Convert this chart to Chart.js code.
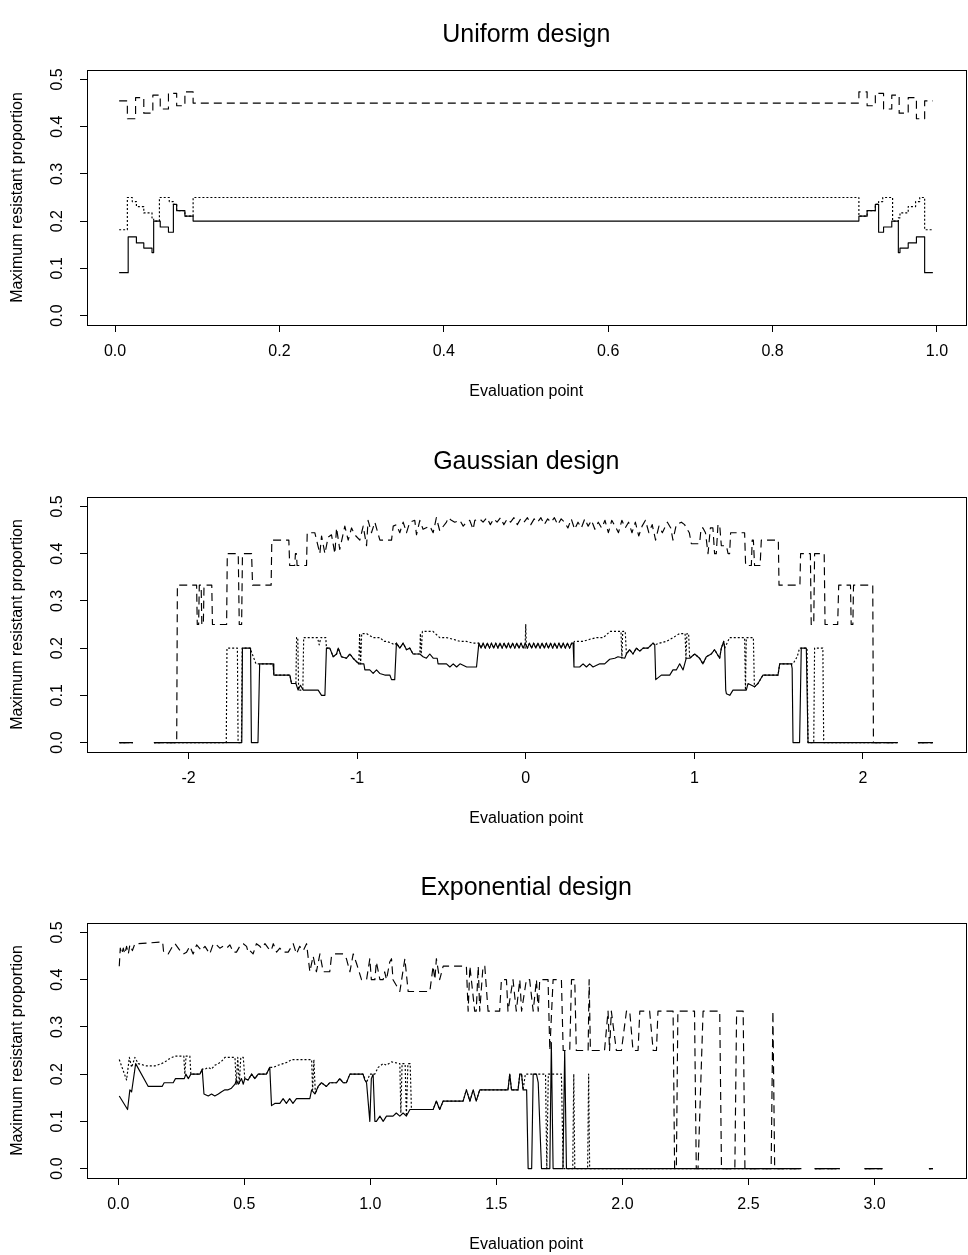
<!DOCTYPE html>
<html>
<head>
<meta charset="utf-8">
<title>Maximum resistant proportion</title>
<script src="https://cdn.jsdelivr.net/npm/chart.js@4.4.1/dist/chart.umd.min.js"></script>
<style>
  body { margin: 0; background: #fff; }
  #page { position: relative; width: 968px; height: 1255px; }
  .panel { position: absolute; left: 0; width: 968px; height: 402px; }
</style>
</head>
<body>
<div id="page">
  <div class="panel" style="top:0px"><canvas id="uniform" width="968" height="402"></canvas></div>
  <div class="panel" style="top:427px"><canvas id="gaussian" width="968" height="402"></canvas></div>
  <div class="panel" style="top:853px"><canvas id="exponential" width="968" height="402"></canvas></div>
</div>
<script>
// axis ticks
var yTicks = [0, 0.1, 0.2, 0.3, 0.4, 0.5];
var yTickLabels = ['0.0', '0.1', '0.2', '0.3', '0.4', '0.5'];
var uniformTicks = [0, 0.2, 0.4, 0.6, 0.8, 1.0];
var uniformTickLabels = ['0.0', '0.2', '0.4', '0.6', '0.8', '1.0'];
var gaussTicks = [-2, -1, 0, 1, 2];
var gaussTickLabels = ['-2', '-1', '0', '1', '2'];
var expoTicks = [0, 0.5, 1.0, 1.5, 2.0, 2.5, 3.0];
var expoTickLabels = ['0.0', '0.5', '1.0', '1.5', '2.0', '2.5', '3.0'];

// Uniform design (step points: value holds from x onward)
var uniformSolid = [[0.005,0.0909],[0.016,0.1667],[0.026,0.1538],[0.035,0.1429],[0.045,0.1333],[0.047,0.2],[0.055,0.1875],[0.065,0.1765],[0.071,0.2353],[0.075,0.2222],[0.085,0.2105],[0.095,0.2],[0.905,0.2105],[0.915,0.2222],[0.925,0.2353],[0.929,0.1765],[0.935,0.1875],[0.945,0.2],[0.953,0.1333],[0.955,0.1429],[0.965,0.1538],[0.975,0.1667],[0.985,0.0909],[0.995,0.0909]];
var uniformDotted = [[0.005,0.1818],[0.015,0.25],[0.021,0.2414],[0.026,0.2308],[0.035,0.2174],[0.045,0.2069],[0.047,0.2],[0.054,0.25],[0.066,0.2414],[0.071,0.2353],[0.075,0.2222],[0.085,0.2105],[0.095,0.25],[0.905,0.2105],[0.915,0.2222],[0.925,0.2353],[0.929,0.2414],[0.934,0.25],[0.946,0.2],[0.953,0.2069],[0.955,0.2174],[0.965,0.2308],[0.974,0.2414],[0.979,0.25],[0.985,0.1818],[0.995,0.1818]];
var uniformDashed = [[0.005,0.4545],[0.015,0.4167],[0.025,0.4615],[0.035,0.4286],[0.046,0.4667],[0.055,0.4375],[0.065,0.4706],[0.075,0.4444],[0.085,0.4737],[0.095,0.45],[0.905,0.4737],[0.915,0.4444],[0.925,0.4706],[0.935,0.4375],[0.945,0.4667],[0.954,0.4286],[0.965,0.4615],[0.975,0.4167],[0.985,0.4545],[0.995,0.4545]];

// Gaussian design
var gaussSolidLeft = [[-2.41,0],[-2.33,0],[-2.27,null],[-2.205,0],[-1.684,0],[-1.68,0.2],[-1.632,0.2],[-1.627,0],[-1.588,0],[-1.578,0.1667],[-1.498,0.1667],[-1.494,0.1429],[-1.399,0.1429],[-1.389,0.125],[-1.363,0.125],[-1.35,0.1111],[-1.336,0.1212],[-1.32,0.1111],[-1.231,0.1111],[-1.211,0.1],[-1.191,0.1],[-1.182,0.2],[-1.162,0.2],[-1.142,0.1818],[-1.122,0.1875],[-1.112,0.2],[-1.093,0.1818],[-1.063,0.1786],[-1.043,0.1875],[-1.024,0.1786],[-0.99,0.1667],[-0.96,0.1667],[-0.954,0.1538],[-0.925,0.1538],[-0.905,0.1463],[-0.885,0.1538],[-0.866,0.1463],[-0.836,0.1429],[-0.806,0.1429],[-0.796,0.1333],[-0.777,0.1333],[-0.767,0.2105],[-0.747,0.2],[-0.727,0.2105],[-0.707,0.1967],[-0.688,0.2],[-0.668,0.1875],[-0.628,0.1875],[-0.609,0.1818],[-0.589,0.1786],[-0.569,0.1875],[-0.549,0.1786],[-0.525,0.1786],[-0.52,0.1667],[-0.47,0.1667],[-0.45,0.16],[-0.43,0.1667],[-0.41,0.16],[-0.39,0.1667],[-0.35,0.16],[-0.292,0.16]];
var gaussCentre = [[-0.278,0.2105],[-0.265,0.2],[-0.253,0.2105],[-0.24,0.2],[-0.228,0.2105],[-0.215,0.2],[-0.203,0.2105],[-0.19,0.2],[-0.178,0.2105],[-0.165,0.2],[-0.153,0.2105],[-0.14,0.2],[-0.128,0.2105],[-0.115,0.2],[-0.103,0.2105],[-0.09,0.2],[-0.078,0.2105],[-0.065,0.2],[-0.053,0.2105],[-0.04,0.2],[-0.028,0.2105],[-0.015,0.2],[-0.003,0.2105],[0.01,0.2],[0.022,0.2105],[0.035,0.2],[0.047,0.2105],[0.06,0.2],[0.072,0.2105],[0.085,0.2],[0.097,0.2105],[0.11,0.2],[0.122,0.2105],[0.135,0.2],[0.147,0.2105],[0.16,0.2],[0.172,0.2105],[0.185,0.2],[0.197,0.2105],[0.21,0.2],[0.222,0.2105],[0.235,0.2],[0.247,0.2105],[0.26,0.2],[0.272,0.2105],[0.281,0.2105]];
var gaussSpike = [[-0.004,0.2],[0,0.25],[0.004,0.2]];
var gaussSolidRight = [[0.286,0.16],[0.32,0.16],[0.34,0.1667],[0.36,0.16],[0.379,0.1667],[0.399,0.16],[0.439,0.1667],[0.468,0.1667],[0.498,0.1765],[0.528,0.1786],[0.547,0.1818],[0.587,0.1786],[0.597,0.1875],[0.616,0.1967],[0.636,0.1875],[0.656,0.2],[0.676,0.1935],[0.696,0.2],[0.725,0.2],[0.755,0.2105],[0.765,0.2069],[0.771,0.1333],[0.804,0.1429],[0.854,0.1429],[0.873,0.1538],[0.893,0.1538],[0.913,0.1667],[0.933,0.1538],[0.952,0.1786],[0.972,0.1786],[1.002,0.1875],[1.031,0.1786],[1.051,0.1667],[1.071,0.1818],[1.1,0.1875],[1.12,0.1967],[1.15,0.1786],[1.16,0.2],[1.174,0.2143],[1.18,0.2],[1.186,0.1111],[1.19,0.1034],[1.21,0.1],[1.229,0.1111],[1.308,0.1111],[1.318,0.125],[1.357,0.118],[1.377,0.125],[1.407,0.1429],[1.496,0.1429],[1.506,0.1667],[1.575,0.1667],[1.58,0.157],[1.585,0],[1.624,0],[1.634,0.2],[1.664,0.2],[1.674,0],[2.207,0],[2.27,null],[2.326,0],[2.415,0]];
var gaussDottedLeft = [[-2.41,0],[-2.33,0],[-2.27,null],[-2.205,0],[-1.776,0],[-1.772,0.2],[-1.71,0.2],[-1.706,0],[-1.686,0],[-1.682,0.2],[-1.635,0.2],[-1.6,0.1667],[-1.498,0.1667],[-1.494,0.1429],[-1.399,0.1429],[-1.389,0.125],[-1.363,0.125],[-1.359,0.2222],[-1.352,0.2222],[-1.347,0.1111],[-1.322,0.1111],[-1.317,0.2222],[-1.235,0.2222],[-1.225,0.2069],[-1.215,0.2222],[-1.186,0.2222],[-1.182,0.2],[-1.162,0.2],[-1.142,0.1818],[-1.122,0.1875],[-1.112,0.2],[-1.093,0.1818],[-1.063,0.1786],[-1.043,0.1875],[-1.024,0.1786],[-0.99,0.1667],[-0.985,0.2308],[-0.979,0.1667],[-0.973,0.2308],[-0.944,0.2308],[-0.905,0.2222],[-0.865,0.2222],[-0.84,0.2143],[-0.826,0.2143],[-0.796,0.2105],[-0.777,0.2069],[-0.767,0.2105],[-0.747,0.2],[-0.727,0.2105],[-0.707,0.1967],[-0.688,0.2],[-0.668,0.1875],[-0.628,0.1875],[-0.625,0.2308],[-0.62,0.1875],[-0.613,0.2353],[-0.55,0.2353],[-0.51,0.2222],[-0.47,0.2222],[-0.431,0.2188],[-0.391,0.2143],[-0.352,0.2143],[-0.312,0.2105],[-0.29,0.2105]];
var gaussDottedRight = [[0.29,0.2143],[0.34,0.2143],[0.38,0.2188],[0.42,0.2222],[0.46,0.2222],[0.5,0.2353],[0.565,0.2353],[0.57,0.1786],[0.575,0.2353],[0.59,0.2353],[0.597,0.1875],[0.616,0.1967],[0.636,0.1875],[0.656,0.2],[0.676,0.1935],[0.696,0.2],[0.725,0.2],[0.755,0.2105],[0.765,0.2069],[0.794,0.2105],[0.834,0.2143],[0.873,0.2222],[0.913,0.2308],[0.945,0.2308],[0.95,0.1786],[0.956,0.2308],[0.966,0.2308],[0.972,0.1786],[1.002,0.1875],[1.031,0.1786],[1.051,0.1667],[1.071,0.1818],[1.1,0.1875],[1.12,0.1967],[1.15,0.1786],[1.16,0.2],[1.174,0.2143],[1.18,0.2],[1.209,0.2222],[1.298,0.2222],[1.303,0.1111],[1.308,0.2222],[1.35,0.2222],[1.356,0.118],[1.377,0.125],[1.407,0.1429],[1.496,0.1429],[1.506,0.1667],[1.585,0.1667],[1.61,0.1818],[1.624,0.2],[1.668,0.2],[1.674,0],[1.708,0],[1.713,0.2],[1.762,0.2],[1.767,0],[2.207,0],[2.27,null],[2.326,0],[2.415,0]];
var gaussDashed = [[-2.41,0],[-2.33,0],[-2.27,null],[-2.205,0],[-2.07,0],[-2.066,0.3333],[-1.952,0.3333],[-1.948,0.25],[-1.94,0.25],[-1.936,0.3333],[-1.925,0.3333],[-1.921,0.25],[-1.912,0.25],[-1.908,0.3333],[-1.862,0.3333],[-1.858,0.25],[-1.774,0.25],[-1.77,0.4],[-1.705,0.4],[-1.699,0.25],[-1.685,0.25],[-1.68,0.4],[-1.626,0.4],[-1.62,0.3333],[-1.51,0.3333],[-1.506,0.4286],[-1.405,0.4286],[-1.4,0.375],[-1.37,0.375],[-1.366,0.4],[-1.36,0.4],[-1.356,0.375],[-1.3,0.375],
  [-1.296,0.4444],[-1.251,0.4444],[-1.221,0.4],[-1.211,0.4375],[-1.191,0.4],[-1.172,0.4348],[-1.152,0.44],[-1.132,0.4],[-1.122,0.4545],[-1.103,0.4091],[-1.073,0.4583],[-1.053,0.4286],[-1.033,0.4545],[-1.014,0.44],[-0.984,0.4286],[-0.964,0.4583],[-0.944,0.4167],[-0.935,0.4706],[-0.915,0.4444],[-0.895,0.4667],[-0.865,0.4286],[-0.796,0.4286],[-0.786,0.4583],[-0.767,0.4615],[-0.747,0.4444],[-0.727,0.4667],[-0.707,0.4444],[-0.688,0.4667],[-0.658,0.4706],[-0.648,0.44],[-0.628,0.4706],[-0.609,0.4516],[-0.569,0.4583],[-0.549,0.4444],[-0.53,0.4762],[-0.51,0.4483],[-0.47,0.4667],[-0.46,0.4762],[-0.441,0.4706],[-0.421,0.4667],[-0.391,0.4706],[-0.371,0.4583],[-0.352,0.4667],[-0.332,0.4706],[-0.312,0.4516],[-0.302,0.4706],[-0.273,0.4737],[-0.253,0.4667],[-0.23,0.4762],[-0.21,0.4615],[-0.19,0.4737],[-0.17,0.4667],[-0.15,0.4762],[-0.13,0.4615],[-0.11,0.4737],[-0.09,0.4667],[-0.07,0.4762],[-0.05,0.4615],[-0.03,0.4737],[-0.01,0.4667],[0.01,0.4762],
  [0.03,0.4615],[0.05,0.4737],[0.07,0.4667],[0.09,0.4762],[0.11,0.4615],[0.13,0.4737],[0.15,0.4667],[0.17,0.4762],[0.19,0.4615],[0.21,0.4737],[0.23,0.4667],[0.25,0.4545],[0.27,0.4737],[0.29,0.4516],[0.31,0.4667],[0.33,0.4545],[0.35,0.4737],[0.37,0.4583],[0.39,0.4706],[0.41,0.4516],[0.43,0.4667],[0.45,0.4545],[0.47,0.4706],[0.49,0.4444],[0.51,0.4706],[0.53,0.4583],[0.55,0.4444],[0.57,0.4706],[0.59,0.4545],[0.61,0.4667],[0.63,0.4444],[0.65,0.4667],[0.67,0.4375],[0.69,0.4583],[0.71,0.4706],[0.73,0.4444],[0.75,0.4615],[0.77,0.4286],[0.79,0.4583],[0.81,0.4444],[0.84,0.4667],[0.86,0.4545],[0.873,0.4286],[0.893,0.4615],[0.923,0.4667],[0.942,0.4615],[0.952,0.4545],[0.97,0.4444],[0.982,0.4211],[1.031,0.4211],[1.04,0.4545],[1.051,0.4545],[1.066,0.4444],[1.081,0.4],[1.095,0.4545],[1.11,0.4545],[1.12,0.4],[1.13,0.4],[1.14,0.4615],[1.15,0.4615],[1.16,0.4167],[1.19,0.4167],[1.2,0.4],[1.209,0.4],[1.215,0.4444],[1.298,0.4444],[1.304,0.375],[1.338,0.375],[1.343,0.4286],[1.35,0.4286],[1.357,0.375],[1.39,0.375],[1.397,0.4286],[1.498,0.4286],[1.502,0.3333],[1.626,0.3333],[1.63,0.4],[1.688,0.4],[1.693,0.25],[1.708,0.25],[1.713,0.4],[1.77,0.4],[1.775,0.25],[1.85,0.25],[1.856,0.3333],[1.926,0.3333],[1.93,0.25],[1.94,0.25],[1.944,0.3333],[2.058,0.3333],[2.062,0],[2.207,0],[2.27,null],[2.326,0],[2.415,0]];

// Exponential design
var expoSolid = [[0.004,0.1538],[0.037,0.125],[0.046,0.1667],[0.053,0.1622],[0.069,0.2222],[0.119,0.1739],[0.174,0.1739],[0.182,0.1818],[0.218,0.1818],[0.227,0.1905],[0.262,0.1905],[0.268,0.2],[0.278,0.1905],[0.288,0.2],[0.304,0.2],[0.324,0.2],[0.333,0.2105],[0.34,0.1579],[0.357,0.1538],[0.37,0.1579],[0.383,0.1538],[0.397,0.1579],[0.41,0.1628],[0.423,0.1667],[0.436,0.1667],[0.449,0.1702],[0.463,0.1786],[0.469,0.1875],[0.476,0.1786],[0.489,0.1905],[0.496,0.1786],[0.502,0.1905],[0.515,0.1875],[0.529,0.2],[0.542,0.1905],[0.555,0.2],[0.588,0.2],[0.601,0.2143],[0.608,0.1333],[0.621,0.1379],[0.641,0.1379],[0.654,0.1481],[0.667,0.1379],[0.68,0.1481],[0.693,0.1379],[0.707,0.1481],[0.76,0.1481],[0.767,0.1667],[0.78,0.1579],[0.793,0.1739],[0.806,0.1818],[0.826,0.1739],[0.839,0.1818],[0.866,0.1818],[0.879,0.1905],[0.892,0.1818],[0.905,0.1818],[0.919,0.2],[0.971,0.2],[0.978,0.1875],[0.985,0.1818],[0.998,0.1],[1.004,0.1905],[1.011,0.2],[1.018,0.1],[1.024,0.1],[1.038,0.1111],[1.051,0.1],[1.064,0.1111],[1.09,0.1111],[1.103,0.1176],[1.117,0.1111],[1.13,0.1176],[1.143,0.1111],[1.157,0.125],[1.249,0.125],[1.262,0.1429],[1.275,0.125],[1.289,0.1429],[1.368,0.1429],[1.381,0.1667],[1.395,0.1429],[1.408,0.1667],[1.42,0.1429],[1.434,0.1667],[1.546,0.1667],[1.553,0.2],[1.56,0.1667],[1.586,0.1667],[1.593,0.2],[1.6,0.2],[1.606,0.1667],[1.62,0.1667],[1.626,0],[1.64,0],[1.646,0.2],[1.659,0.2],[1.666,0.1818],[1.679,0],[1.712,0],[1.718,0.2667],[1.725,0],[1.764,0],[1.771,0.25],[1.778,0],[2.71,0],[2.74,null],[2.763,0],[2.862,0],[2.91,null],[2.961,0],[3.031,0],[3.1,null],[3.216,0],[3.232,0]];
var expoDotted = [[0.004,0.2308],[0.033,0.1875],[0.044,0.2353],[0.053,0.2143],[0.066,0.2353],[0.079,0.2222],[0.112,0.2174],[0.145,0.2174],[0.172,0.2222],[0.185,0.2258],[0.205,0.2333],[0.225,0.2381],[0.26,0.2381],[0.264,0.2],[0.269,0.2381],[0.284,0.2381],[0.288,0.2],[0.304,0.2],[0.324,0.2],[0.333,0.2105],[0.344,0.2105],[0.357,0.2143],[0.37,0.2105],[0.383,0.2188],[0.397,0.2222],[0.41,0.2273],[0.423,0.2353],[0.463,0.2353],[0.468,0.1786],[0.474,0.2353],[0.48,0.1786],[0.486,0.2353],[0.496,0.2353],[0.502,0.1905],[0.515,0.1875],[0.529,0.2],[0.542,0.1905],[0.555,0.2],[0.588,0.2],[0.601,0.2143],[0.615,0.2143],[0.634,0.2188],[0.654,0.2222],[0.674,0.2258],[0.687,0.2308],[0.767,0.2308],[0.771,0.1667],[0.776,0.2308],[0.782,0.1579],[0.793,0.1739],[0.806,0.1818],[0.826,0.1739],[0.839,0.1818],[0.866,0.1818],[0.879,0.1905],[0.892,0.1818],[0.905,0.1818],[0.919,0.2],[0.971,0.2],[0.985,0.1818],[0.998,0.2],[1.018,0.2],[1.031,0.2143],[1.051,0.2222],[1.064,0.2188],[1.084,0.2258],[1.117,0.2222],[1.121,0.1176],[1.126,0.2222],[1.138,0.2222],[1.143,0.1111],[1.149,0.2222],[1.158,0.2222],[1.163,0.125],[1.249,0.125],[1.262,0.1429],[1.275,0.125],[1.289,0.1429],[1.368,0.1429],[1.381,0.1667],[1.395,0.1429],[1.408,0.1667],[1.42,0.1429],[1.434,0.1667],[1.546,0.1667],[1.553,0.2],[1.56,0.1667],[1.586,0.1667],[1.593,0.2],[1.6,0.2],[1.606,0.1667],[1.615,0.2],[1.695,0.2],[1.7,0],[1.706,0.2],[1.758,0.2],[1.765,0],[1.803,0],[1.807,0.2],[1.811,0],[1.862,0],[1.866,0.2],[1.87,0],[2.71,0],[2.74,null],[2.763,0],[2.862,0],[2.91,null],[2.961,0],[3.031,0],[3.1,null],[3.216,0],[3.232,0]];
var expoDashed = [[0.004,0.4286],[0.008,0.4667],[0.014,0.4545],[0.02,0.4667],[0.026,0.4545],[0.033,0.4706],[0.04,0.4545],[0.046,0.4737],[0.056,0.4615],[0.066,0.4762],[0.079,0.4762],[0.176,0.48],[0.18,0.4583],[0.198,0.4545],[0.211,0.4667],[0.225,0.4762],[0.245,0.4615],[0.258,0.4545],[0.271,0.4583],[0.284,0.4706],[0.297,0.4545],[0.311,0.4737],[0.33,0.4615],[0.344,0.4706],[0.363,0.4545],[0.377,0.4762],[0.39,0.4737],[0.403,0.4667],[0.416,0.4706],[0.43,0.4667],[0.443,0.4737],[0.456,0.4583],[0.469,0.4583],[0.482,0.4706],[0.496,0.4762],[0.509,0.4706],[0.515,0.4583],[0.522,0.4615],[0.535,0.4545],[0.548,0.4762],[0.562,0.4706],[0.568,0.4667],[0.582,0.4762],[0.595,0.4667],[0.607,0.4615],[0.615,0.4762],[0.628,0.4583],[0.641,0.4667],[0.654,0.4583],[0.674,0.4583],[0.694,0.4762],[0.707,0.4545],[0.72,0.4706],[0.734,0.4615],[0.747,0.4762],[0.76,0.4167],[0.773,0.45],[0.786,0.4167],[0.8,0.4545],[0.813,0.4167],[0.839,0.4167],[0.846,0.45],[0.859,0.4545],[0.892,0.4545],[0.905,0.4444],[0.919,0.4167],[0.932,0.4545],[0.945,0.4348],[0.965,0.4],[0.985,0.4],[0.998,0.4444],[1.004,0.4],[1.018,0.4],[1.024,0.4375],[1.038,0.4],[1.051,0.4],[1.057,0.4167],[1.064,0.4],[1.077,0.4375],[1.084,0.4444],[1.09,0.4],[1.117,0.375],[1.137,0.4444],[1.15,0.375],[1.236,0.375],[1.249,0.4286],[1.256,0.4],[1.262,0.4444],[1.275,0.4],[1.289,0.4286],[1.381,0.4286],[1.388,0.3333],[1.395,0.4286],[1.414,0.3333],[1.42,0.3333],[1.428,0.4286],[1.434,0.3333],[1.447,0.4286],[1.454,0.4286],[1.467,0.3333],[1.513,0.3333],[1.52,0.4],[1.54,0.4],[1.546,0.3333],[1.566,0.4],[1.579,0.3333],[1.593,0.4],[1.6,0.3333],[1.619,0.4],[1.632,0.4],[1.646,0.3333],[1.659,0.4],[1.666,0.3333],[1.672,0.4],[1.705,0.4],[1.712,0.25],[1.725,0.4],[1.758,0.4],[1.765,0.25],[1.791,0.25],[1.798,0.4],[1.811,0.4],[1.817,0.25],[1.864,0.25],[1.868,0.4],[1.873,0.25],[1.929,0.25],[1.943,0.3333],[1.949,0.25],[1.956,0.3333],[1.976,0.25],[1.996,0.25],[2.016,0.3333],[2.029,0.3333],[2.042,0.25],[2.062,0.25],[2.069,0.3333],[2.108,0.3333],[2.122,0.25],[2.135,0.25],[2.141,0.3333],[2.201,0.3333],[2.207,0],[2.214,0],[2.22,0.3333],[2.286,0.3333],[2.293,0],[2.3,0],[2.32,0.3333],[2.386,0.3333],[2.393,0],[2.446,0],[2.453,0.3333],[2.479,0.3333],[2.486,0],[2.59,0],[2.597,0.3333],[2.604,0],[2.71,0],[2.74,null],[2.763,0],[2.862,0],[2.91,null],[2.961,0],[3.031,0],[3.1,null],[3.216,0],[3.232,0]];

var FONT = "'Liberation Sans', Arial, Helvetica, sans-serif";

// frame round the plot region, like R's box()
var frame = {
    id: 'frame',
    afterDraw: function (chart) {
        var a = chart.chartArea;
        var ctx = chart.ctx;
        ctx.save();
        ctx.strokeStyle = '#000';
        ctx.lineWidth = 1;
        ctx.strokeRect(Math.round(a.left) + 0.5, Math.round(a.top) + 0.5,
            Math.round(a.right - a.left), Math.round(a.bottom - a.top));
        ctx.restore();
    }
};

function lineSet(points, dash, stepped) {
    return {
        data: points,
        borderColor: '#000',
        borderWidth: 1.15,
        borderDash: dash,
        borderJoinStyle: 'round',
        pointRadius: 0,
        tension: 0,
        fill: false,
        spanGaps: false,
        stepped: stepped ? 'before' : false
    };
}

function drawPanel(id, title, solid, dotted, dashed, xMin, xMax, xTicks, xLabels, stepped) {
    var ctx = document.getElementById(id).getContext('2d');
    return new Chart(ctx, {
        type: 'line',
        data: {
            datasets: [
                lineSet(dashed, [8, 5], stepped),
                lineSet(dotted, [2, 2], stepped),
                lineSet(solid, [], stepped)
            ]
        },
        options: {
            responsive: false,
            animation: false,
            events: [],
            layout: { padding: { left: 0, right: 2.5, top: 0, bottom: 0 } },
            plugins: {
                legend: { display: false },
                tooltip: { enabled: false },
                title: {
                    display: true,
                    text: title,
                    fullSize: false,
                    color: '#000',
                    font: { family: FONT, size: 25, weight: 'normal' },
                    padding: { top: 20, bottom: 20 }
                }
            },
            scales: {
                x: {
                    type: 'linear',
                    min: xMin,
                    max: xMax,
                    bounds: 'data',
                    afterBuildTicks: function (s) {
                        s.ticks = xTicks.map(function (v) { return { value: v }; });
                    },
                    afterFit: function (s) {
                        s.height = 77;
                        s.paddingLeft = 0;
                        s.paddingRight = 0;
                    },
                    ticks: {
                        callback: function (v, i) { return xLabels[i]; },
                        font: { family: FONT, size: 16 },
                        color: '#000',
                        padding: 10,
                        maxRotation: 0,
                        autoSkip: false
                    },
                    grid: { drawOnChartArea: false, drawTicks: true, tickLength: 7, color: '#000', lineWidth: 1 },
                    border: { display: false },
                    title: {
                        display: true,
                        text: 'Evaluation point',
                        color: '#000',
                        font: { family: FONT, size: 16 },
                        padding: { top: 0, bottom: 1 }
                    }
                },
                y: {
                    type: 'linear',
                    min: -0.02,
                    max: 0.52,
                    bounds: 'data',
                    afterBuildTicks: function (s) {
                        s.ticks = yTicks.map(function (v) { return { value: v }; });
                    },
                    afterFit: function (s) {
                        s.width = 87;
                        s.paddingTop = 0;
                        s.paddingBottom = 0;
                    },
                    ticks: {
                        callback: function (v, i) { return yTickLabels[i]; },
                        font: { family: FONT, size: 16 },
                        color: '#000',
                        padding: 11,
                        minRotation: 90,
                        maxRotation: 90,
                        crossAlign: 'center',
                        autoSkip: false
                    },
                    grid: { drawOnChartArea: false, drawTicks: true, tickLength: 7, color: '#000', lineWidth: 1 },
                    border: { display: false },
                    title: {
                        display: true,
                        text: 'Maximum resistant proportion',
                        color: '#000',
                        font: { family: FONT, size: 16 },
                        padding: { top: 8, bottom: 0 }
                    }
                }
            }
        },
        plugins: [frame]
    });
}

drawPanel('uniform', 'Uniform design', uniformSolid, uniformDotted, uniformDashed,
    -0.0341, 1.0347, uniformTicks, uniformTickLabels, true);

drawPanel('gaussian', 'Gaussian design',
    gaussSolidLeft.concat(gaussCentre, gaussSolidRight),
    gaussDottedLeft.concat(gaussCentre.slice(0, 22), gaussSpike, gaussCentre.slice(23), gaussDottedRight),
    gaussDashed,
    -2.602, 2.608, gaussTicks, gaussTickLabels, false);

drawPanel('exponential', 'Exponential design', expoSolid, expoDotted, expoDashed,
    -0.124, 3.361, expoTicks, expoTickLabels, false);
</script>
</body>
</html>
